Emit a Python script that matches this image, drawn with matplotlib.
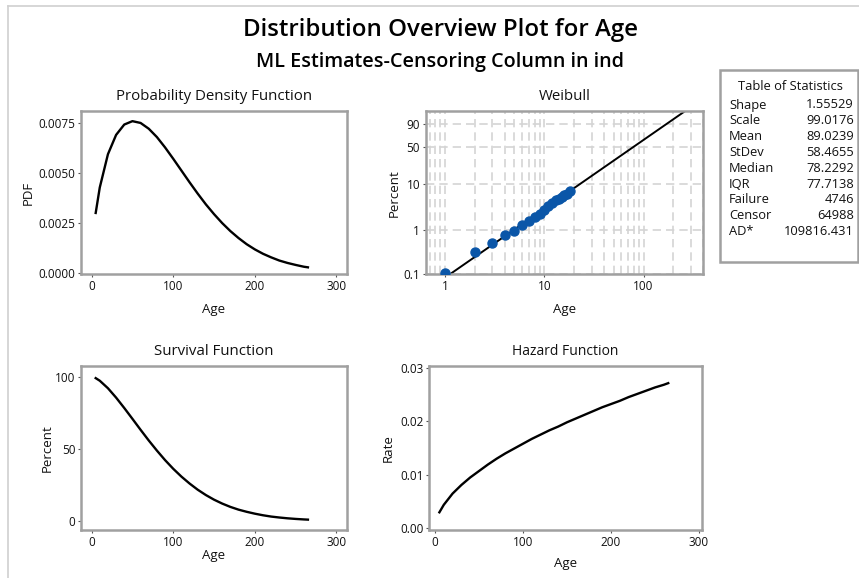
import numpy as np
import matplotlib
matplotlib.use('Agg')
import matplotlib.pyplot as plt
from matplotlib.patches import Rectangle
from matplotlib.lines import Line2D

plt.rcParams['font.family'] = ['Open Sans', 'DejaVu Sans']

# curve values (age, value)
age = [5, 10, 20, 30, 40, 50, 60, 70, 80, 90, 100, 110, 120, 130, 140, 150,
       160, 170, 180, 190, 200, 210, 220, 230, 240, 250, 260, 265]
pdf = [0.00300, 0.00428, 0.00595, 0.00692, 0.00744, 0.00761, 0.00752, 0.00723,
       0.00681, 0.00629, 0.00572, 0.00513, 0.00454, 0.00397, 0.00343, 0.00294,
       0.00249, 0.00209, 0.00174, 0.00143, 0.00117, 0.00095, 0.00077, 0.00061,
       0.00049, 0.00039, 0.00030, 0.00027]
survival = [99.0, 97.2, 92.0, 85.5, 78.3, 70.8, 63.2, 55.8, 48.8, 42.2, 36.2,
            30.8, 26.0, 21.7, 18.0, 14.8, 12.1, 9.8, 7.9, 6.4, 5.1, 4.0, 3.1,
            2.45, 1.9, 1.47, 1.12, 0.98]
hazard = [0.0030, 0.0044, 0.0065, 0.0081, 0.0095, 0.0107, 0.0119, 0.0130,
          0.0140, 0.0149, 0.0158, 0.0167, 0.0175, 0.0183, 0.0190, 0.0198,
          0.0205, 0.0212, 0.0219, 0.0226, 0.0232, 0.0238, 0.0245, 0.0251,
          0.0257, 0.0263, 0.0268, 0.0271]

# Weibull probability plot points
wb_age = [1, 2, 3, 4, 5, 6, 7, 8, 9, 10, 11, 12, 13, 14, 15, 16, 17, 18]
wb_pct = [0.108, 0.32, 0.51, 0.74, 0.92, 1.27, 1.58, 1.91, 2.26, 2.77, 3.39,
          3.88, 4.43, 4.82, 5.24, 5.70, 6.19, 7.18]
fit_age = [1.12, 263]
fit_pct = [0.1, 98.9]

stat_names = ['Shape', 'Scale', 'Mean', 'StDev', 'Median', 'IQR', 'Failure', 'Censor', 'AD*']
stat_values = ['1.55529', '99.0176', '89.0239', '58.4655', '78.2292', '77.7138', '4746', '64988', '109816.431']

W, H = 859, 578
fig = plt.figure(figsize=(W / 100, H / 100), dpi=100)

def box(l, t, r, b):
    return [l / W, 1 - b / H, (r - l) / W, (b - t) / H]

spine_col = '#a0a0a0'
txt_col = '#111111'

def style(ax):
    for s in ax.spines.values():
        s.set_color(spine_col)
        s.set_linewidth(1.8)
    ax.tick_params(labelsize=8.5, labelcolor=txt_col, length=2.5, width=0.8, pad=1.5, color='#555555')

ax1 = fig.add_axes(box(81, 111, 346.7, 274.3))
ax2 = fig.add_axes(box(425.7, 111, 703.3, 274.3))
ax3 = fig.add_axes(box(81, 366, 346.7, 530))
ax4 = fig.add_axes(box(429, 366, 702.3, 530))

title_kw = dict(fontsize=10.8, color=txt_col, pad=8)
label_kw = dict(fontsize=9.5, color=txt_col)

# PDF
ax1.plot(age, pdf, color='black', lw=1.7)
ax1.set_xlim(-13, 312.5)
ax1.set_ylim(-0.00008, 0.00812)
ax1.set_xticks([0, 100, 200, 300])
ax1.set_yticks([0, 0.0025, 0.005, 0.0075])
ax1.set_yticklabels(['0.0000', '0.0025', '0.0050', '0.0075'])
ax1.set_title('Probability Density Function', **title_kw)
ax1.set_xlabel('Age', labelpad=7, **label_kw)
ax1.set_ylabel('PDF', labelpad=3, **label_kw)
style(ax1)

# Weibull
def fwd(p):
    p = np.clip(np.asarray(p, dtype=float), 1e-6, 99.9999) / 100.0
    return np.log(-np.log(1 - p))

def inv(w):
    return 100 * (1 - np.exp(-np.exp(w)))

ax2.set_xscale('log')
ax2.set_yscale('function', functions=(fwd, inv))
ax2.set_xlim(0.64, 400)
ax2.set_ylim(0.1, 98.9)
ax2.set_yticks([0.1, 1, 10, 50, 90])
ax2.set_yticklabels(['0.1', '1', '10', '50', '90'])
ax2.yaxis.set_minor_locator(matplotlib.ticker.NullLocator())
ax2.set_xticks([1, 10, 100])
ax2.set_xticklabels(['1', '10', '100'])
ax2.xaxis.set_minor_formatter(matplotlib.ticker.NullFormatter())
ax2.tick_params(axis='x', which='minor', length=0)
ax2.grid(True, which='both', axis='x', color='#d4d4d4', ls=(0, (5, 3)), lw=1.2)
ax2.grid(True, which='major', axis='y', color='#d4d4d4', ls=(0, (5, 3)), lw=1.2)
ax2.set_axisbelow(True)
ax2.plot(fit_age, fit_pct, color='black', lw=1.4, zorder=2)
ax2.plot(wb_age, wb_pct, 'o', color='#0a56a8', ms=6.5, zorder=3)
ax2.set_title('Weibull', **title_kw)
ax2.set_xlabel('Age', labelpad=7, **label_kw)
ax2.set_ylabel('Percent', labelpad=2, **label_kw)
style(ax2)

# Survival
ax3.plot(age, survival, color='black', lw=1.7)
ax3.set_xlim(-13, 312.5)
ax3.set_ylim(-6.2, 107.4)
ax3.set_xticks([0, 100, 200, 300])
ax3.set_yticks([0, 50, 100])
ax3.set_title('Survival Function', **title_kw)
ax3.set_xlabel('Age', labelpad=0, **label_kw)
ax3.set_ylabel('Percent', labelpad=1, **label_kw)
style(ax3)

# Hazard
ax4.plot(age, hazard, color='black', lw=1.7)
ax4.set_xlim(-6.8, 303.7)
ax4.set_ylim(-0.0003, 0.0303)
ax4.set_xticks([0, 100, 200, 300])
ax4.set_yticks([0, 0.01, 0.02, 0.03])
ax4.set_yticklabels(['0.00', '0.01', '0.02', '0.03'])
ax4.set_title('Hazard Function', fontsize=10, color=txt_col, pad=8)
ax4.set_xlabel('Age', labelpad=6, **label_kw)
ax4.set_ylabel('Rate', labelpad=4, **label_kw)
style(ax4)

# titles
fig.text(440 / W, 1 - 30 / H, 'Distribution Overview Plot for Age', ha='center', va='center',
         fontsize=17.3, fontweight='semibold', color='black')
fig.text(440 / W, 1 - 62 / H, 'ML Estimates-Censoring Column in ind', ha='center', va='center',
         fontsize=14.2, fontweight='semibold', color='black')

# outer frame
fig.add_artist(Line2D([8 / W, 1], [1 - 6 / H, 1 - 6 / H], color='#d0d0d0', lw=1.2))
fig.add_artist(Line2D([8 / W, 8 / W], [0, 1 - 6 / H], color='#d0d0d0', lw=1.2))

# table of statistics
fig.add_artist(Rectangle((720 / W, 1 - 262 / H), 138 / W, 192 / H, transform=fig.transFigure,
                         fill=False, edgecolor=spine_col, lw=1.8))
fig.text(790 / W, 1 - 86 / H, 'Table of Statistics', ha='center', va='center', fontsize=9.3, color=txt_col)
for i, (n, v) in enumerate(zip(stat_names, stat_values)):
    y = 1 - (105 + i * 15.8) / H
    fig.text(729 / W, y, n, ha='left', va='center', fontsize=9.3, color=txt_col)
    fig.text(854 / W, y, v, ha='right', va='center', fontsize=9.3, color=txt_col)

fig.savefig('out.png', dpi=100)
